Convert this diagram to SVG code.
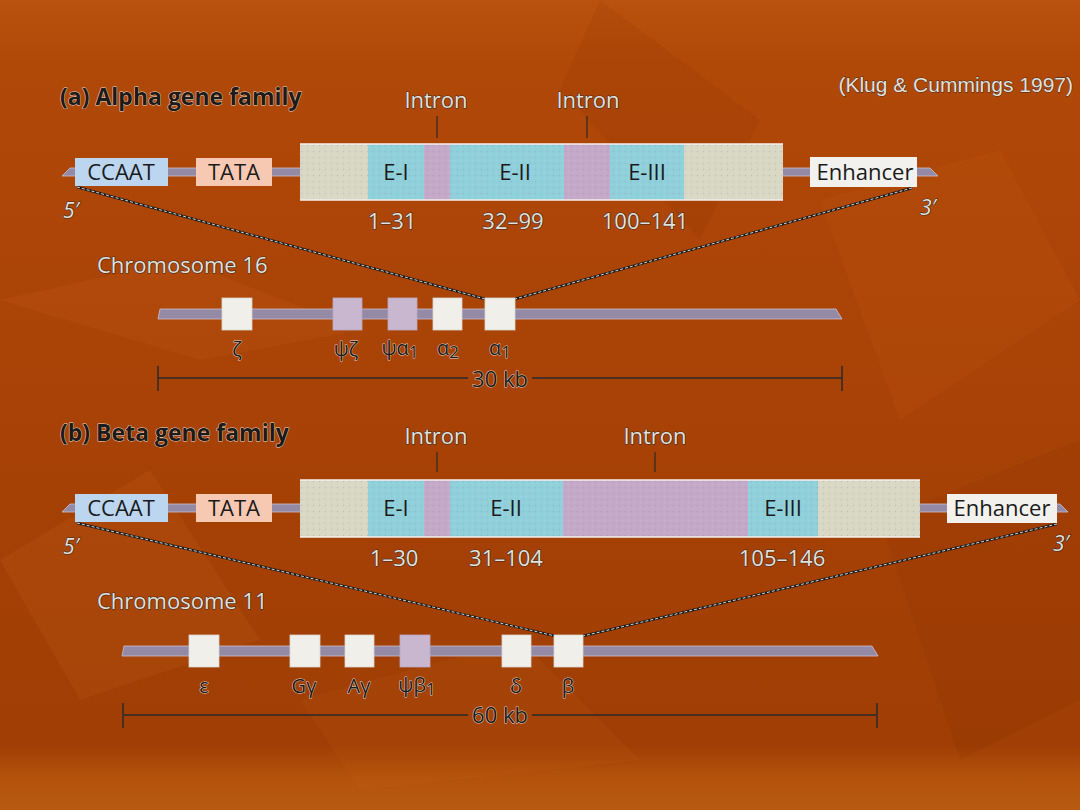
<svg xmlns="http://www.w3.org/2000/svg" width="1080" height="810" viewBox="0 0 1080 810">
<defs>
<linearGradient id="bg" x1="0" y1="0" x2="0" y2="1">
<stop offset="0" stop-color="#b9520e"/>
<stop offset="0.08" stop-color="#b04808"/>
<stop offset="0.5" stop-color="#a84206"/>
<stop offset="0.92" stop-color="#a03e05"/>
<stop offset="0.96" stop-color="#b4520c"/>
<stop offset="1" stop-color="#b85a12"/>
</linearGradient>
<pattern id="dots" width="6" height="6" patternUnits="userSpaceOnUse">
<circle cx="1.5" cy="1.5" r="0.7" fill="#7a6a90" opacity="0.5"/>
<circle cx="4.5" cy="4.5" r="0.6" fill="#ffffff" opacity="0.4"/>
</pattern>
</defs>
<style>
.dk{font-family:"Open Sans","Liberation Sans",sans-serif;fill:#1e1a18;stroke:#e8dcd0;stroke-width:0.9px;paint-order:stroke;stroke-linejoin:round}
.lt{font-family:"Open Sans","Liberation Sans",sans-serif;fill:#e4e0dc;stroke:#3a2a20;stroke-width:1.2px;paint-order:stroke;stroke-linejoin:round}
.bx{font-family:"Open Sans","Liberation Sans",sans-serif;fill:#1a1a1a;font-size:22px}
.dna{fill:#948aa6;stroke:#c8c0d0;stroke-width:0.8}
.beige{fill:#d9d8c4}
.exon{fill:#8fd0da}
.intr{fill:#c4a9c8}
.gene{fill:#f0efea;stroke:#d8d8d0;stroke-width:0.8}
.pseudo{fill:#c9b7cf;stroke:#b8a8c0;stroke-width:0.8}
.tick{stroke:#2a2a2a;stroke-width:1.2}
.scale{stroke:#2a2a2a;stroke-width:1.5}
.diag{stroke:#1a1a1a;stroke-width:2.4;fill:none}
.diagw{stroke:#e8e8e8;stroke-width:0.9;fill:none;stroke-dasharray:3 2}
</style>
<rect x="0" y="0" width="1080" height="810" fill="url(#bg)"/>
<g opacity="0.1">
<polygon points="0,300 180,260 360,330 200,360" fill="#e07a30"/>
<polygon points="600,0 760,120 700,240 560,90" fill="#7a2800"/>
<polygon points="820,200 1000,150 1080,300 900,420" fill="#d86a20"/>
<polygon points="0,560 150,470 260,640 80,700" fill="#e08030"/>
<polygon points="880,520 1080,440 1080,700 960,760" fill="#7a2a00"/>
<polygon points="300,700 520,640 640,760 360,790" fill="#d06a20"/>
</g>

<text class="lt" x="1073" y="92" font-size="21" text-anchor="end" style="font-family:'Liberation Sans',sans-serif;stroke-width:0.9px">(Klug &amp; Cummings 1997)</text>

<!-- ===== (a) Alpha ===== -->
<g id="alpha-title"><text class="dk" x="60" y="105" font-size="23" font-weight="bold">(a) Alpha gene family</text></g>

<g id="connectors">
<line class="diag" x1="77" y1="187" x2="485" y2="299"/>
<line class="diagw" x1="77" y1="187" x2="485" y2="299"/>
<line class="diag" x1="912" y1="188" x2="515" y2="299"/>
<line class="diagw" x1="912" y1="188" x2="515" y2="299"/>
<line class="diag" x1="77" y1="523" x2="555" y2="636"/>
<line class="diagw" x1="77" y1="523" x2="555" y2="636"/>
<line class="diag" x1="1057" y1="524" x2="583" y2="636"/>
<line class="diagw" x1="1057" y1="524" x2="583" y2="636"/>
</g>

<g id="alpha-dna"><polygon class="dna" points="70,168 930,168 938,176 62,176"/></g>
<g id="alpha-ccaat"><rect x="75" y="158" width="93" height="28" fill="#bcd6ef"/><text class="bx" x="121" y="180" text-anchor="middle">CCAAT</text></g>
<g id="alpha-tata"><rect x="196" y="158" width="76" height="28" fill="#f8c9b2"/><text class="bx" x="234" y="180" text-anchor="middle">TATA</text></g>
<g id="alpha-gene">
<rect class="beige" x="300" y="144" width="68" height="56"/>
<rect class="exon" x="368" y="144" width="56" height="56"/>
<rect class="intr" x="424" y="144" width="26" height="56"/>
<rect class="exon" x="450" y="144" width="114" height="56"/>
<rect class="intr" x="564" y="144" width="46" height="56"/>
<rect class="exon" x="610" y="144" width="74" height="56"/>
<rect class="beige" x="684" y="144" width="99" height="56"/>
<rect x="300" y="144" width="483" height="56" fill="url(#dots)" opacity="0.5"/>
<line x1="300" y1="144" x2="783" y2="144" stroke="#f4f0ec" stroke-width="1.5"/>
<line x1="300" y1="200" x2="783" y2="200" stroke="#f4f0ec" stroke-width="1.5"/>
<text class="bx" x="396" y="180" text-anchor="middle">E-I</text>
<text class="bx" x="515" y="180" text-anchor="middle">E-II</text>
<text class="bx" x="647" y="180" text-anchor="middle">E-III</text>
</g>
<g id="alpha-enhancer"><rect x="810" y="157" width="107" height="30" fill="#f2f1ee"/><text class="bx" x="865" y="180" text-anchor="middle">Enhancer</text></g>
<g id="alpha-labels">
<text class="lt" x="436" y="108" font-size="22" text-anchor="middle">Intron</text>
<line class="tick" x1="437" y1="116" x2="437" y2="138"/>
<text class="lt" x="588" y="108" font-size="22" text-anchor="middle">Intron</text>
<line class="tick" x1="587" y1="116" x2="587" y2="138"/>
<text class="lt" x="392" y="229" font-size="22" text-anchor="middle">1–31</text>
<text class="lt" x="513" y="229" font-size="22" text-anchor="middle">32–99</text>
<text class="lt" x="645" y="229" font-size="22" text-anchor="middle">100–141</text>
<text class="lt" x="63" y="218" font-size="21" font-style="italic">5′</text>
<text class="lt" x="920" y="215" font-size="21" font-style="italic">3′</text>
</g>

<g id="chr16">
<text class="lt" x="97" y="273" font-size="22">Chromosome 16</text>
<polygon class="dna" points="160,309 836,309 842,319 158,319"/>
<rect class="gene" x="222" y="298" width="30" height="32"/>
<rect class="pseudo" x="333" y="298" width="29" height="32"/>
<rect class="pseudo" x="388" y="298" width="29" height="32"/>
<rect class="gene" x="433" y="298" width="29" height="32"/>
<rect class="gene" x="485" y="298" width="30" height="32"/>
<text class="dk" x="237" y="356" font-size="20" text-anchor="middle">ζ</text>
<text class="dk" x="346" y="356" font-size="20" text-anchor="middle">ψζ</text>
<text class="dk" x="400" y="355" font-size="20" text-anchor="middle">ψα<tspan dy="3" font-size="17">1</tspan></text>
<text class="dk" x="448" y="355" font-size="20" text-anchor="middle">α<tspan dy="3" font-size="17">2</tspan></text>
<text class="dk" x="500" y="355" font-size="20" text-anchor="middle">α<tspan dy="3" font-size="17">1</tspan></text>
<line class="scale" x1="158" y1="378" x2="468" y2="378"/>
<line class="scale" x1="532" y1="378" x2="842" y2="378"/>
<line class="scale" x1="158" y1="366" x2="158" y2="391"/>
<line class="scale" x1="842" y1="366" x2="842" y2="391"/>
<text class="dk" x="500" y="387" font-size="22" text-anchor="middle">30 kb</text>
</g>

<!-- ===== (b) Beta ===== -->
<g id="beta-title"><text class="dk" x="60" y="441" font-size="23" font-weight="bold">(b) Beta gene family</text></g>
<g id="beta-dna"><polygon class="dna" points="70,504 1060,504 1068,512 62,512"/></g>
<g id="beta-ccaat"><rect x="75" y="494" width="93" height="28" fill="#bcd6ef"/><text class="bx" x="121" y="516" text-anchor="middle">CCAAT</text></g>
<g id="beta-tata"><rect x="196" y="494" width="76" height="28" fill="#f8c9b2"/><text class="bx" x="234" y="516" text-anchor="middle">TATA</text></g>
<g id="beta-gene">
<rect class="beige" x="300" y="480" width="68" height="57"/>
<rect class="exon" x="368" y="480" width="56" height="57"/>
<rect class="intr" x="424" y="480" width="26" height="57"/>
<rect class="exon" x="450" y="480" width="113" height="57"/>
<rect class="intr" x="563" y="480" width="185" height="57"/>
<rect class="exon" x="748" y="480" width="70" height="57"/>
<rect class="beige" x="818" y="480" width="102" height="57"/>
<rect x="300" y="480" width="620" height="57" fill="url(#dots)" opacity="0.5"/>
<line x1="300" y1="480" x2="920" y2="480" stroke="#f4f0ec" stroke-width="1.5"/>
<line x1="300" y1="537" x2="920" y2="537" stroke="#f4f0ec" stroke-width="1.5"/>
<text class="bx" x="396" y="516" text-anchor="middle">E-I</text>
<text class="bx" x="506" y="516" text-anchor="middle">E-II</text>
<text class="bx" x="783" y="516" text-anchor="middle">E-III</text>
</g>
<g id="beta-enhancer"><rect x="947" y="494" width="110" height="29" fill="#f2f1ee"/><text class="bx" x="1002" y="516" text-anchor="middle">Enhancer</text></g>
<g id="beta-labels">
<text class="lt" x="436" y="444" font-size="22" text-anchor="middle">Intron</text>
<line class="tick" x1="437" y1="452" x2="437" y2="472"/>
<text class="lt" x="655" y="444" font-size="22" text-anchor="middle">Intron</text>
<line class="tick" x1="655" y1="452" x2="655" y2="472"/>
<text class="lt" x="394" y="566" font-size="22" text-anchor="middle">1–30</text>
<text class="lt" x="506" y="566" font-size="22" text-anchor="middle">31–104</text>
<text class="lt" x="782" y="566" font-size="22" text-anchor="middle">105–146</text>
<text class="lt" x="63" y="554" font-size="21" font-style="italic">5′</text>
<text class="lt" x="1053" y="551" font-size="21" font-style="italic">3′</text>
</g>

<g id="chr11">
<text class="lt" x="97" y="609" font-size="22">Chromosome 11</text>
<polygon class="dna" points="124,646 872,646 878,656 122,656"/>
<rect class="gene" x="189" y="635" width="30" height="32"/>
<rect class="gene" x="290" y="635" width="30" height="32"/>
<rect class="gene" x="345" y="635" width="29" height="32"/>
<rect class="pseudo" x="400" y="635" width="30" height="32"/>
<rect class="gene" x="502" y="635" width="29" height="32"/>
<rect class="gene" x="554" y="635" width="29" height="32"/>
<text class="dk" x="204" y="693" font-size="20" text-anchor="middle">ε</text>
<text class="dk" x="304" y="693" font-size="20" text-anchor="middle">Gγ</text>
<text class="dk" x="359" y="693" font-size="20" text-anchor="middle">Aγ</text>
<text class="dk" x="417" y="692" font-size="20" text-anchor="middle">ψβ<tspan dy="3" font-size="17">1</tspan></text>
<text class="dk" x="516" y="693" font-size="20" text-anchor="middle">δ</text>
<text class="dk" x="568" y="693" font-size="20" text-anchor="middle">β</text>
<line class="scale" x1="123" y1="715" x2="468" y2="715"/>
<line class="scale" x1="532" y1="715" x2="877" y2="715"/>
<line class="scale" x1="123" y1="703" x2="123" y2="728"/>
<line class="scale" x1="877" y1="703" x2="877" y2="728"/>
<text class="dk" x="500" y="723" font-size="22" text-anchor="middle">60 kb</text>
</g>
</svg>
